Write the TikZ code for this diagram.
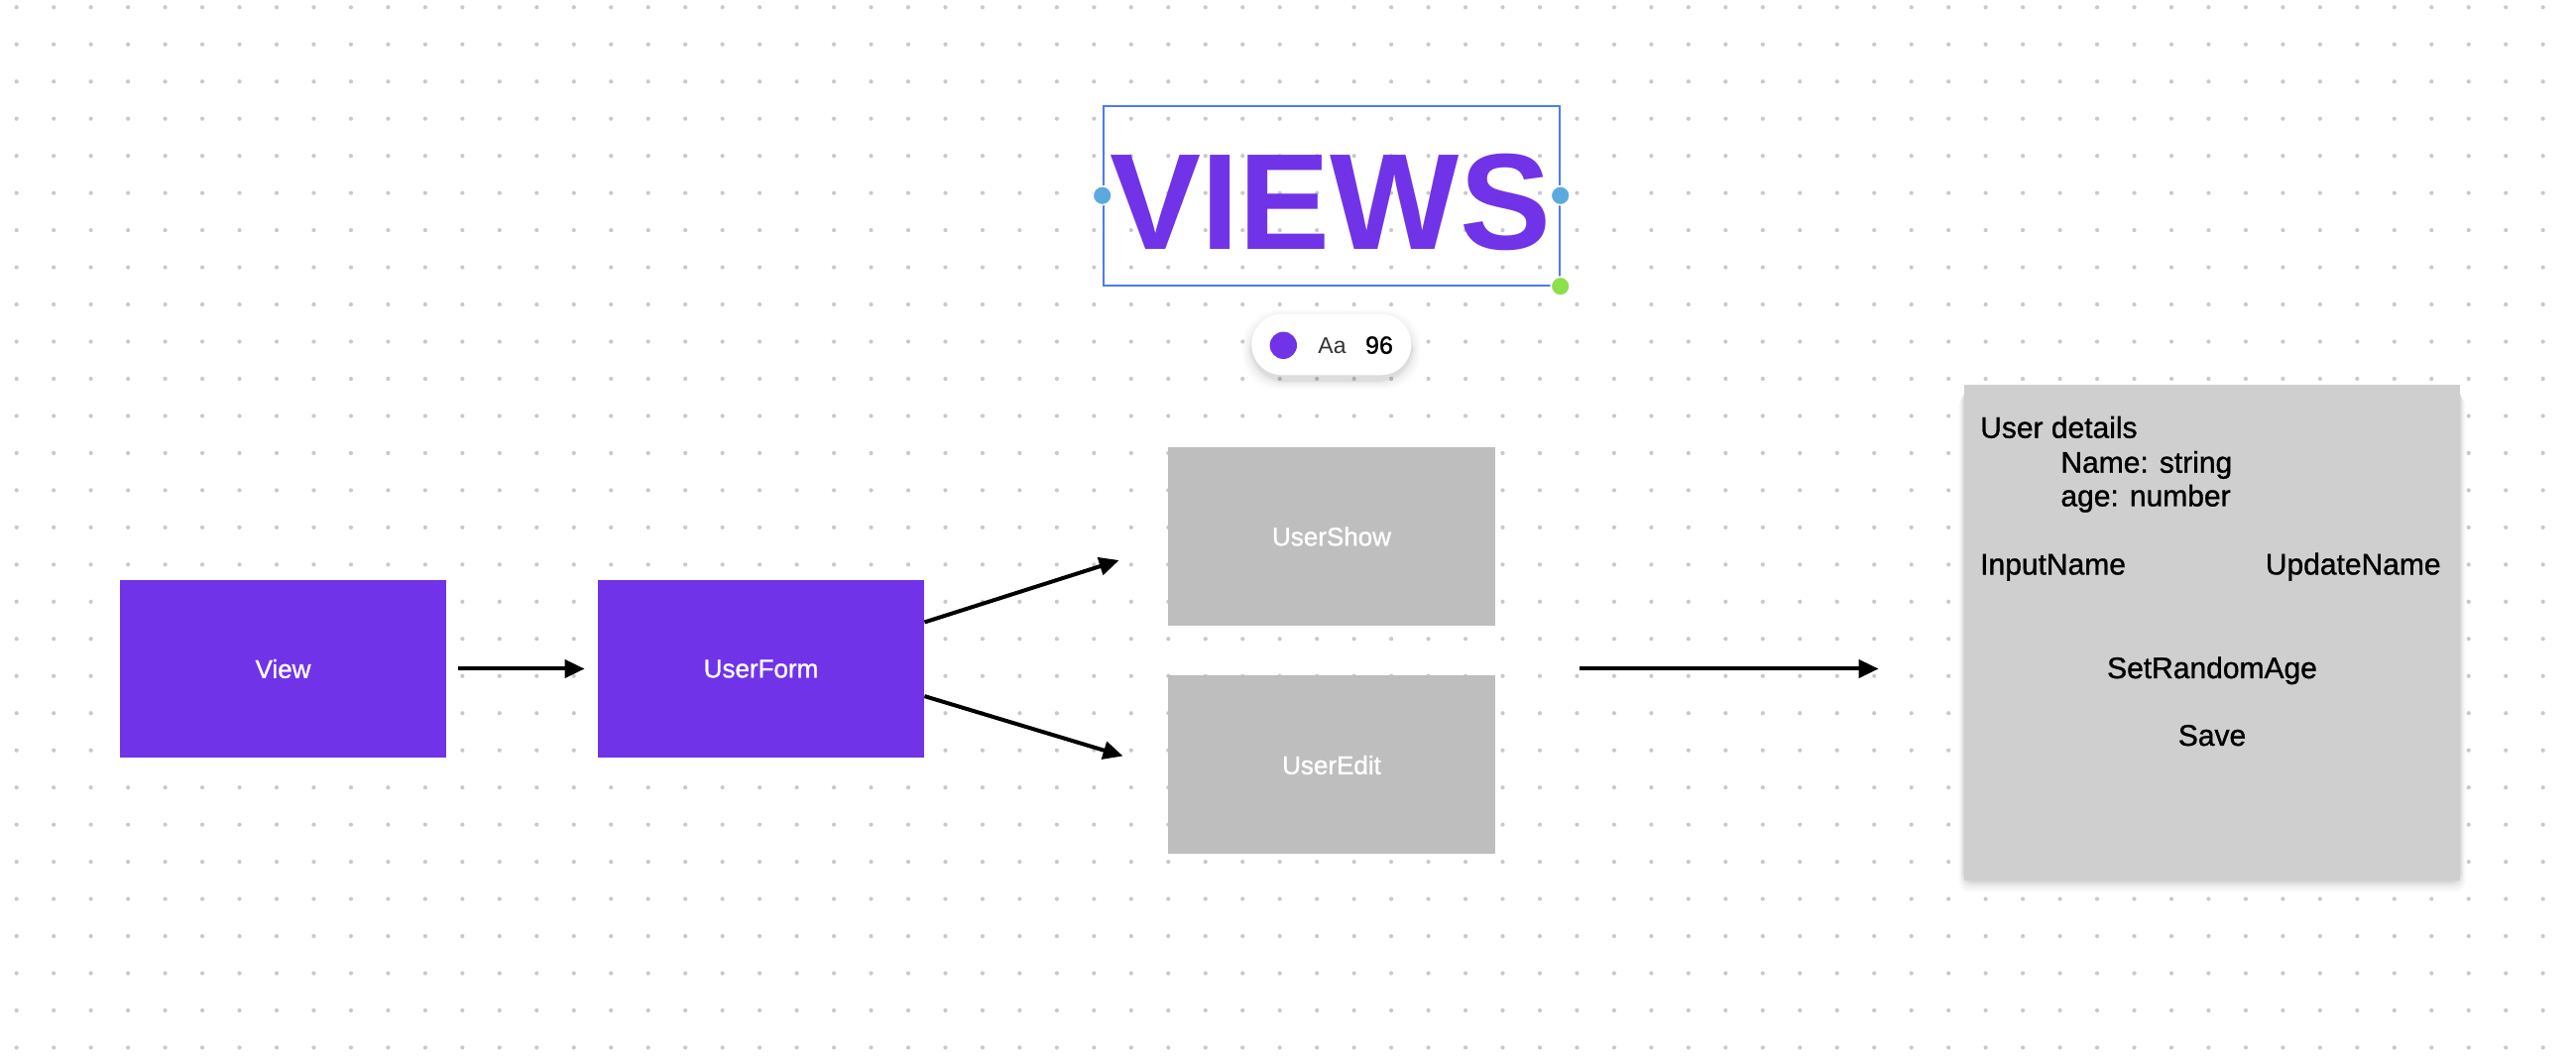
\documentclass[tikz,border=0pt]{standalone}
\usepackage{fontspec}
\setmainfont{Liberation Sans}
\newfontfamily\medfont[FakeBold=1.1]{Liberation Sans}
\usetikzlibrary{arrows.meta}

\definecolor{brandpurple}{HTML}{7033E8}
\definecolor{boxgray}{HTML}{BEBEBE}
\definecolor{cardgray}{HTML}{CFCFCF}
\definecolor{dotgray}{HTML}{C9C9C9}
\definecolor{selblue}{HTML}{4A7CF4}
\definecolor{handleblue}{HTML}{5AAAE0}
\definecolor{handlegreen}{HTML}{8EDF4C}
\definecolor{labelgray}{HTML}{333333}

\begin{document}
\begin{tikzpicture}[x=0.5pt,y=-0.5pt,
  purplebox/.style={fill=brandpurple, draw=none, minimum width=164.5pt, minimum height=89.5pt,
    inner sep=0pt, text=white, font=\medfont\fontsize{13}{15}\selectfont},
  graybox/.style={fill=boxgray, draw=none, minimum width=165pt, minimum height=90pt,
    inner sep=0pt, text=white, font=\medfont\fontsize{13}{15}\selectfont},
  arr/.style={line width=2pt, -{Triangle[length=10pt,width=9pt]}},
  dtext/.style={anchor=base west, inner sep=0pt, font=\medfont\fontsize{15}{18}\selectfont},
  handle/.style={circle, draw=white, line width=0.8pt, minimum size=9.5pt, inner sep=0pt},
]
% canvas
\fill[white] (0,0) rectangle (2598,1068);
\useasboundingbox (0,0) rectangle (2598,1068);

% dotted grid
\foreach \i in {0,...,68}{
  \foreach \j in {0,...,28}{
    \fill[dotgray] (16.7+37.47*\i, 7.3+37.47*\j) circle[radius=1.05pt];
  }
}

% title with its selection frame
\node[draw=selblue, line width=1pt, minimum width=230pt, minimum height=90.5pt, inner sep=0pt]
  (sel) at (1342.7,197.2) {};
\node[anchor=base, inner sep=0pt, text=brandpurple, font=\bfseries\fontsize{69}{80}\selectfont]
  (title) at (1341.7,252) {VIEWS};
\node[handle, fill=handleblue] (hl) at (sel.west) {};
\node[handle, fill=handleblue] (hr) at (sel.east) {};
\node[handle, fill=handlegreen] (hg) at (sel.south east) {};

% text toolbar pill with soft shadow
\foreach \k/\o in {9/0.015,7/0.02,5/0.025,3/0.035,1.5/0.045}{
  \fill[black, opacity=\o, rounded corners=18pt]
    (1262.3-\k,316.7-\k+5) rectangle (1423.3+\k,378.3+\k+5);
}
\node[fill=white, minimum width=80.5pt, minimum height=30.8pt, rounded corners=15.4pt, inner sep=0pt]
  (pill) at (1342.8,347.5) {};
\fill[brandpurple] (1294.3,348.3) circle[radius=6.85pt];
\node[anchor=base west, inner sep=0pt, text=labelgray, font=\fontsize{11.5}{13}\selectfont]
  (aa) at (1329,356.7) {Aa};
\node[anchor=base west, inner sep=0pt, text=black, font=\medfont\fontsize{12.5}{14}\selectfont]
  (size) at (1376.7,356.7) {96};

% main flow
\node[purplebox] (view) at (285.5,674.5) {View};
\node[purplebox] (uform) at (767.5,674.5) {UserForm};
\node[graybox] (ushow) at (1343,541) {UserShow};
\node[graybox] (uedit) at (1343,771.5) {UserEdit};

% details card with shadow
\foreach \k/\o in {12/0.015,10/0.02,8/0.025,6/0.03,4/0.04,2/0.05}{
  \fill[black, opacity=\o, rounded corners=5pt]
    (1981.3-\k*0.5,387.9+\k) rectangle (2480.7+\k*0.5,887.6+\k);
}
\node[fill=cardgray, minimum width=250pt, minimum height=250pt, inner sep=0pt]
  (card) at (2231,637.8) {};
\node[dtext] (t1) at (1996.8,441.6) {User details};
\node[dtext] (t2) at (2078,476.7) {Name: string};
\node[dtext] (t3) at (2078,510.5) {age: number};
\node[dtext] (t4) at (1996.8,579.4) {InputName};
\node[dtext, anchor=base east] (t5) at (2462,579.4) {UpdateName};
\node[dtext, anchor=base] (t6) at (2231,684) {SetRandomAge};
\node[dtext, anchor=base] (t7) at (2231,752) {Save};

% connectors
\draw[arr] ([xshift=6pt]view.east) -- ([xshift=-6.5pt]uform.west);
\draw[arr] ([yshift=23.5pt]uform.east) -- ([xshift=-24.5pt,yshift=-12pt]ushow.west);
\draw[arr] ([yshift=-13.8pt]uform.east) -- ([xshift=-22.5pt,yshift=4.5pt]uedit.west);
\draw[arr] ([xshift=42.5pt]uedit.east |- uform.east) -- ([xshift=-43pt]card.west |- uform.east);
\end{tikzpicture}
\end{document}
